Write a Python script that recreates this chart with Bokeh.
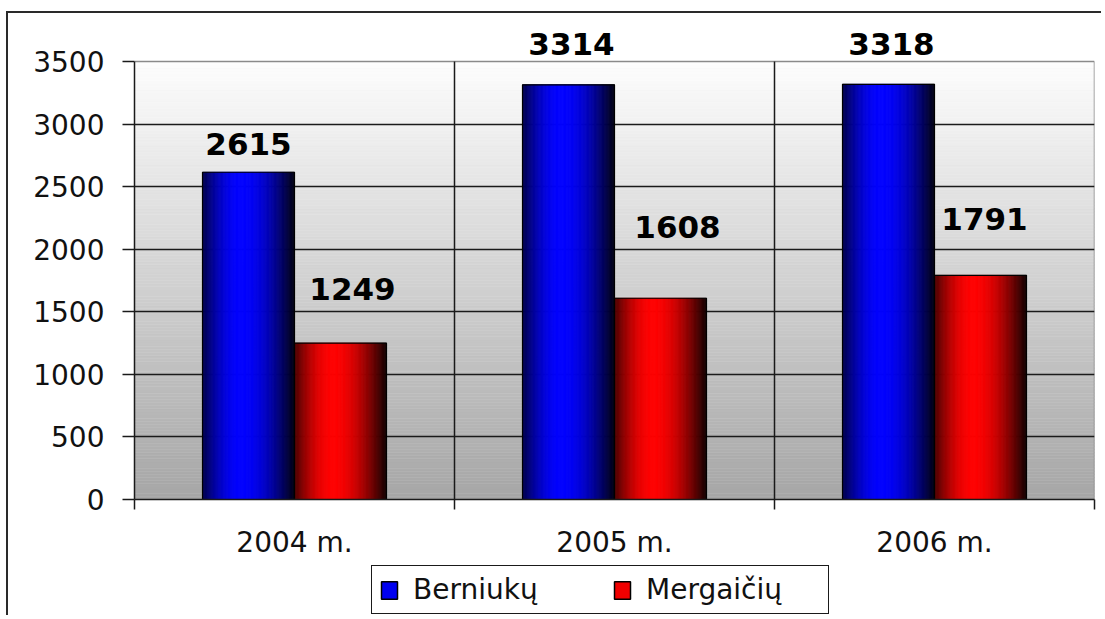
import numpy as np
from bokeh.plotting import figure
from bokeh.layouts import column
from bokeh.models import (ColumnDataSource, Range1d, FixedTicker, LabelSet,
                          Legend, LegendItem)
from bokeh.core.properties import value
from bokeh.embed import file_html
from bokeh.resources import INLINE

# ---------------- data ----------------
years = ["2004 m.", "2005 m.", "2006 m."]
berniuku = [2615, 3314, 3318]
mergaiciu = [1249, 1608, 1791]
series_names = ["Berniukų", "Mergaičių"]
y_ticks = [0, 500, 1000, 1500, 2000, 2500, 3000, 3500]

# ---------------- styling / layout ----------------
BAR_W = 0.2875
N_STRIPS = 80
FONT = "DejaVu Sans"
blue_label_dx = [0, 3, 3]
blue_label_dy = [17, 30, 29]
red_label_dx = [12, 17, 4]
red_label_dy = [43, 60, 45]
# pixel geometry of the plot area (frame top extends above the 3500 line
# so that value labels are not clipped)
FRAME_TOP_PX, AREA_TOP_PX, AREA_BOTTOM_PX = 25, 61, 499

ncat = len(years)
ymax = y_ticks[-1]
y_end = ymax * (AREA_BOTTOM_PX - FRAME_TOP_PX) / (AREA_BOTTOM_PX - AREA_TOP_PX)

p = figure(width=1095, height=549,
           x_range=Range1d(0, ncat), y_range=Range1d(0, y_end),
           output_backend="svg", toolbar_location=None, title=None,
           min_border_left=126, min_border_right=9,
           min_border_top=12, min_border_bottom=63,
           background_fill_color="white", border_fill_color="white")
p.styles = {"border-left": "2px solid #2a2a2a",
            "border-top": "2px solid #2a2a2a",
            "margin-left": "6px",
            "margin-top": "11px"}
p.outline_line_color = None

# background vertical gradient (white top -> grey bottom)
nbg = 140
edges = np.linspace(0, ymax, nbg + 1)
bg_cols = []
for i in range(nbg):
    frac = (i + 0.5) / nbg
    g = int(round(166 + (253 - 166) * frac))
    bg_cols.append("#%02x%02x%02x" % (g, g, g))
p.quad(left=0, right=ncat, bottom=edges[:-1], top=edges[1:],
       fill_color=bg_cols, line_color=bg_cols, line_width=0.5, level="image")

# plot-area border (top & right, grey) and category separators (black)
p.segment(x0=[0, ncat], y0=[ymax, 0], x1=[ncat, ncat], y1=[ymax, ymax],
          line_color="#8a8a8a", line_width=1.5, level="underlay")
seps = list(range(1, ncat))
p.segment(x0=seps, y0=0, x1=seps, y1=ymax,
          line_color="#1a1a1a", line_width=1.5, level="underlay")


def shade(t):
    tp = 0.42
    if t < tp:
        return 0.28 + 0.72 * np.sin(np.pi / 2 * t / tp)
    return 0.07 + 0.93 * np.cos(np.pi / 2 * (t - tp) / (1 - tp))


def bar_strips(vals, offset, channel):
    L, R, T, C = [], [], [], []
    for i, v in enumerate(vals):
        left = i + 0.5 + offset
        for k in range(N_STRIPS):
            t = (k + 0.5) / N_STRIPS
            s = int(round(255 * shade(t)))
            col = "#%02x0000" % s if channel == "r" else "#0000%02x" % s
            L.append(left + BAR_W * k / N_STRIPS)
            R.append(left + BAR_W * (k + 1) / N_STRIPS)
            T.append(v)
            C.append(col)
    return ColumnDataSource(dict(left=L, right=R, top=T, color=C))


for vals, off, ch in [(berniuku, -BAR_W, "b"), (mergaiciu, 0.0, "r")]:
    src = bar_strips(vals, off, ch)
    p.quad(left="left", right="right", bottom=0, top="top", source=src,
           fill_color="color", line_color="color", line_width=0.8)
    lefts = [i + 0.5 + off for i in range(ncat)]
    rights = [l + BAR_W for l in lefts]
    p.quad(left=lefts, right=rights, bottom=0, top=vals,
           fill_color=None, line_color="#000000", line_width=1.2)

# value labels
for vals, off, dx, dy in [(berniuku, -BAR_W / 2, blue_label_dx, blue_label_dy),
                          (mergaiciu, BAR_W / 2, red_label_dx, red_label_dy)]:
    lsrc = ColumnDataSource(dict(x=[i + 0.5 + off for i in range(ncat)],
                                 y=vals, text=[str(v) for v in vals],
                                 dx=dx, dy=dy))
    p.add_layout(LabelSet(x="x", y="y", text="text", source=lsrc,
                          x_offset="dx", y_offset="dy",
                          text_align="center", text_baseline="alphabetic",
                          text_font=value(FONT), text_font_style="bold",
                          text_font_size="31px", text_color="#000000"))

# axes
p.yaxis.ticker = FixedTicker(ticks=y_ticks)
p.yaxis.bounds = (0, ymax)
p.yaxis.major_tick_out = 12
p.yaxis.major_tick_in = 0
p.yaxis.minor_tick_line_color = None
p.yaxis.major_label_standoff = 18
p.yaxis.major_label_text_font = FONT
p.yaxis.major_label_text_font_size = "28px"
p.yaxis.major_label_text_color = "#111111"
p.yaxis.axis_line_color = "#1a1a1a"
p.yaxis.axis_line_width = 1.5
p.yaxis.major_tick_line_color = "#1a1a1a"
p.yaxis.major_tick_line_width = 1.5

centers = [i + 0.5 for i in range(ncat)]
p.xaxis.ticker = FixedTicker(ticks=centers, minor_ticks=list(range(ncat + 1)))
p.xaxis.major_label_overrides = {c: y for c, y in zip(centers, years)}
p.xaxis.major_tick_line_color = None
p.xaxis.major_tick_out = 10
p.xaxis.major_tick_in = 0
p.xaxis.minor_tick_out = 10
p.xaxis.minor_tick_in = 0
p.xaxis.minor_tick_line_color = "#1a1a1a"
p.xaxis.minor_tick_line_width = 1.5
p.xaxis.major_label_standoff = 16
p.xaxis.major_label_text_font = FONT
p.xaxis.major_label_text_font_size = "28px"
p.xaxis.major_label_text_color = "#111111"
p.xaxis.axis_line_color = "#1a1a1a"
p.xaxis.axis_line_width = 1.5

# grids
p.ygrid.ticker = FixedTicker(ticks=y_ticks[1:-1])
p.ygrid.grid_line_color = "#1a1a1a"
p.ygrid.grid_line_width = 1.3
p.xgrid.visible = False

# ---------------- legend strip (separate figure under the chart) ----------
p2 = figure(width=1095, height=55, x_range=Range1d(0, 1), y_range=Range1d(0, 1),
            output_backend="svg", toolbar_location=None, title=None,
            min_border_left=0, min_border_right=0, min_border_top=0,
            min_border_bottom=0, background_fill_color="white",
            border_fill_color="white")
p2.styles = {"border-left": "2px solid #2a2a2a", "margin-left": "6px"}
p2.outline_line_color = None
p2.axis.visible = False
p2.grid.visible = False

# legend proxies: one NaN point each, so nothing is drawn in the plot itself
proxy = dict(left=[np.nan], right=[np.nan], top=[np.nan], bottom=[np.nan])
rb = p2.quad(left="left", right="right", top="top", bottom="bottom",
             source=ColumnDataSource(proxy), fill_color="#0000f0",
             line_color="#000000", line_width=1.5)
rr = p2.quad(left="left", right="right", top="top", bottom="bottom",
             source=ColumnDataSource(proxy), fill_color="#f00000",
             line_color="#000000", line_width=1.5)
legend = Legend(items=[LegendItem(label=series_names[0], renderers=[rb]),
                       LegendItem(label=series_names[1], renderers=[rr])],
                orientation="horizontal", location=(237, 1),
                padding=7, margin=0, spacing=24, label_standoff=14,
                glyph_width=20, glyph_height=22, label_width=175,
                label_text_font=FONT, label_text_font_size="28px",
                label_text_color="#111111",
                border_line_color="#1a1a1a", border_line_width=1.5,
                border_line_alpha=1.0,
                background_fill_color="white", background_fill_alpha=1.0)
p2.add_layout(legend, "center")

layout = column(p, p2, spacing=0)
open("out.html", "w").write(file_html(layout, INLINE))
